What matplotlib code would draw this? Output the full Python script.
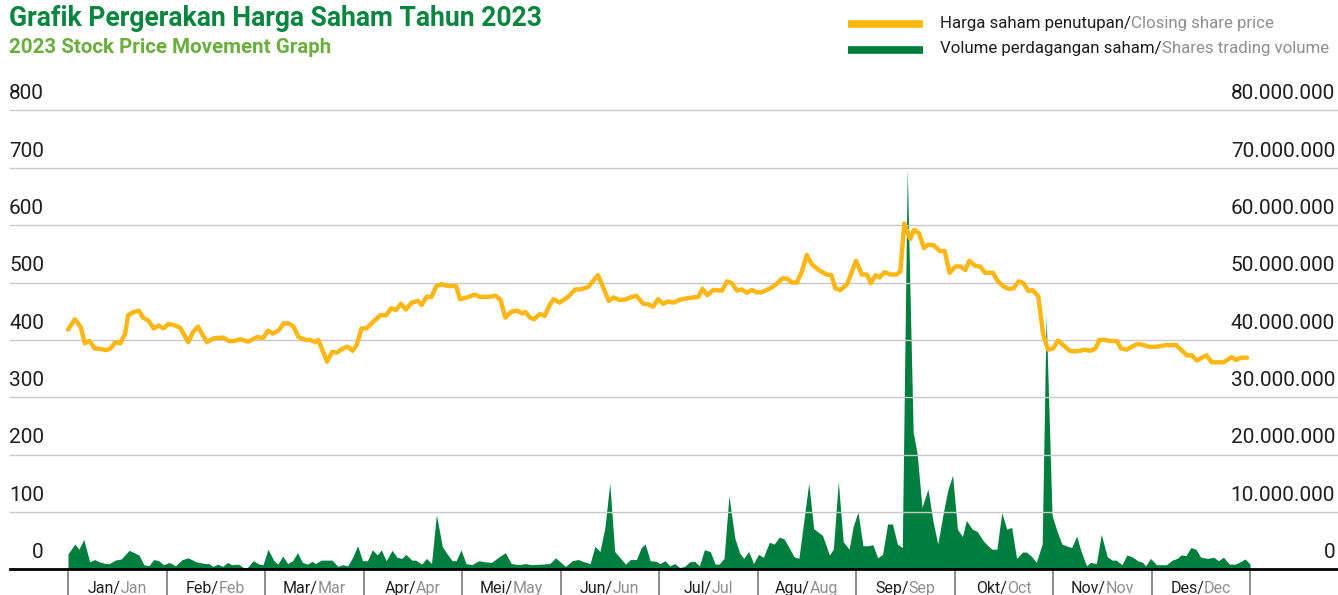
import matplotlib
matplotlib.use("Agg")
import matplotlib.pyplot as plt

plt.rcParams['font.family'] = ['Roboto', 'DejaVu Sans']

# warna
hijau_tua = "#0A8540"
hijau_muda = "#6AAE3E"
oranye = "#FDB714"
hijau_vol = "#007E3D"
abu = "#8F8F8F"
hitam = "#1E1E1E"

bulan_id = ["Jan", "Feb", "Mar", "Apr", "Mei", "Jun", "Jul", "Agu", "Sep", "Okt", "Nov", "Des"]
bulan_en = ["Jan", "Feb", "Mar", "Apr", "May", "Jun", "Jul", "Aug", "Sep", "Oct", "Nov", "Dec"]

# posisi waktu dalam satuan bulan (0 = awal Jan, 12 = akhir Des)
harga_t = [0.00, 0.07, 0.13, 0.17, 0.22, 0.27, 0.34, 0.39, 0.43, 0.48, 0.53, 0.58, 0.61, 0.66, 0.72, 0.76,
           0.82, 0.87, 0.92, 0.97, 1.02, 1.09, 1.14, 1.22, 1.27, 1.32, 1.41, 1.48, 1.58, 1.63, 1.68, 1.75,
           1.83, 1.92, 1.98, 2.03, 2.08, 2.14, 2.19, 2.25, 2.29, 2.34, 2.41, 2.46, 2.51, 2.54, 2.63, 2.68,
           2.73, 2.79, 2.84, 2.89, 2.93, 2.98, 3.03, 3.10, 3.17, 3.23, 3.28, 3.33, 3.38, 3.43, 3.49, 3.55,
           3.59, 3.64, 3.69, 3.74, 3.79, 3.86, 3.94, 3.98, 4.05, 4.13, 4.18, 4.27, 4.34, 4.39, 4.44, 4.50,
           4.56, 4.61, 4.64, 4.69, 4.73, 4.79, 4.84, 4.89, 4.93, 4.99, 5.07, 5.15, 5.20, 5.28, 5.38, 5.43,
           5.49, 5.54, 5.59, 5.65, 5.71, 5.77, 5.84, 5.89, 5.94, 5.99, 6.04, 6.09, 6.15, 6.21, 6.30, 6.40,
           6.44, 6.49, 6.55, 6.64, 6.69, 6.74, 6.79, 6.84, 6.89, 6.94, 6.99, 7.04, 7.13, 7.19, 7.25, 7.30,
           7.35, 7.40, 7.45, 7.50, 7.55, 7.62, 7.70, 7.75, 7.79, 7.84, 7.91, 8.00, 8.06, 8.11, 8.15, 8.20,
           8.24, 8.29, 8.35, 8.41, 8.45, 8.49, 8.55, 8.59, 8.64, 8.69, 8.73, 8.79, 8.85, 8.90, 8.95, 9.01,
           9.06, 9.11, 9.15, 9.21, 9.26, 9.31, 9.39, 9.44, 9.50, 9.55, 9.60, 9.65, 9.70, 9.75, 9.79, 9.85,
           9.90, 9.95, 10.00, 10.05, 10.11, 10.17, 10.22, 10.27, 10.32, 10.38, 10.43, 10.47, 10.53, 10.58,
           10.65, 10.69, 10.75, 10.80, 10.86, 10.92, 10.97, 11.05, 11.15, 11.25, 11.31, 11.36, 11.41, 11.46,
           11.51, 11.56, 11.61, 11.66, 11.73, 11.77, 11.81, 11.86, 11.91, 11.97]
harga = [418, 436, 422, 394, 398, 385, 384, 382, 385, 396, 394, 411, 443, 448, 451, 439,
         433, 420, 425, 420, 428, 425, 421, 396, 414, 423, 396, 403, 404, 398, 398, 401,
         397, 405, 403, 416, 411, 417, 429, 428, 423, 405, 400, 400, 396, 400, 362, 379,
         378, 385, 388, 381, 391, 420, 420, 432, 443, 443, 455, 452, 463, 453, 465, 468,
         461, 475, 475, 494, 497, 494, 494, 471, 474, 479, 475, 475, 477, 470, 439, 449,
         451, 446, 449, 439, 436, 445, 442, 461, 471, 465, 474, 488, 488, 492, 513, 493,
         468, 474, 470, 470, 474, 477, 463, 462, 458, 471, 463, 467, 465, 470, 473, 475,
         489, 478, 487, 486, 502, 499, 486, 488, 482, 487, 483, 483, 490, 497, 507, 507,
         500, 500, 519, 548, 532, 522, 514, 513, 490, 487, 497, 538, 514, 514, 499, 513,
         509, 518, 514, 514, 519, 603, 576, 592, 586, 560, 566, 565, 555, 555, 517, 528,
         528, 522, 538, 529, 528, 517, 517, 502, 493, 489, 490, 502, 499, 485, 487, 476,
         409, 383, 385, 399, 390, 381, 380, 381, 383, 381, 385, 400, 400, 398,
         398, 385, 383, 388, 393, 391, 388, 388, 391, 391, 381, 373, 373, 364,
         369, 373, 361, 361, 361, 365, 370, 365, 369, 369]

# volume perdagangan (juta lembar)
vol_t = [0.00, 0.07, 0.11, 0.16, 0.22, 0.27, 0.32, 0.38, 0.42, 0.48, 0.54, 0.62, 0.72, 0.77, 0.82, 0.87,
         0.92, 0.97, 1.03, 1.09, 1.16, 1.22, 1.30, 1.39, 1.43, 1.47, 1.52, 1.57, 1.62, 1.66, 1.73, 1.78,
         1.82, 1.88, 1.94, 1.98, 2.03, 2.09, 2.13, 2.18, 2.23, 2.28, 2.33, 2.38, 2.43, 2.48, 2.51, 2.57,
         2.63, 2.68, 2.74, 2.79, 2.84, 2.89, 2.94, 2.99, 3.04, 3.09, 3.14, 3.18, 3.23, 3.29, 3.34, 3.39,
         3.43, 3.49, 3.53, 3.59, 3.64, 3.69, 3.74, 3.80, 3.84, 3.90, 3.94, 3.99, 4.04, 4.10, 4.17, 4.23,
         4.30, 4.37, 4.44, 4.50, 4.58, 4.64, 4.70, 4.81, 4.89, 4.95, 5.05, 5.12, 5.18, 5.24, 5.30, 5.35,
         5.40, 5.45, 5.50, 5.55, 5.60, 5.66, 5.71, 5.77, 5.82, 5.86, 5.91, 5.97, 6.01, 6.06, 6.11, 6.16,
         6.21, 6.26, 6.31, 6.36, 6.41, 6.46, 6.52, 6.57, 6.61, 6.66, 6.71, 6.77, 6.82, 6.86, 6.91, 6.96,
         7.01, 7.06, 7.12, 7.17, 7.22, 7.27, 7.32, 7.37, 7.42, 7.52, 7.57, 7.66, 7.73, 7.77, 7.82, 7.87,
         7.93, 7.97, 8.02, 8.07, 8.12, 8.17, 8.22, 8.27, 8.32, 8.37, 8.42, 8.47, 8.52, 8.58, 8.62, 8.67,
         8.73, 8.78, 8.83, 8.89, 8.93, 8.98, 9.03, 9.08, 9.12, 9.18, 9.23, 9.29, 9.34, 9.38, 9.43, 9.48,
         9.53, 9.58, 9.63, 9.69, 9.73, 9.78, 9.83, 9.89, 9.93, 9.99, 10.04, 10.09, 10.15, 10.19, 10.24,
         10.28, 10.34, 10.38, 10.44, 10.49, 10.55, 10.60, 10.64, 10.70, 10.75, 10.80, 10.86, 10.91, 10.94,
         10.99, 11.05, 11.15, 11.21, 11.26, 11.30, 11.35, 11.40, 11.45, 11.50, 11.57, 11.63, 11.68, 11.73,
         11.79, 11.85, 11.90, 11.95, 12.00]
volume = [2.7, 4.4, 3.5, 5.2, 1.3, 1.7, 1.3, 1.0, 1.0, 1.6, 1.8, 3.3, 2.5, 0.8, 0.6, 1.7,
          1.5, 0.8, 1.2, 0.6, 1.7, 2.0, 1.3, 1.0, 1.0, 0.5, 0.9, 0.5, 1.2, 0.8, 0.9, 0.3,
          0.3, 1.5, 0.9, 0.8, 3.5, 1.5, 0.9, 2.3, 1.0, 1.5, 2.9, 1.2, 0.9, 1.4, 1.0, 1.6,
          1.6, 1.6, 0.5, 0.8, 0.6, 2.1, 4.1, 1.5, 1.5, 3.4, 2.5, 3.4, 1.5, 3.3, 2.1, 1.9,
          2.6, 1.6, 1.6, 0.9, 1.9, 1.0, 9.5, 4.0, 2.9, 1.5, 1.5, 3.4, 1.0, 0.8, 1.5, 1.3,
          1.2, 2.1, 2.9, 1.0, 0.8, 1.0, 0.8, 0.9, 1.0, 2.0, 0.5, 1.5, 1.7, 1.3, 1.0, 4.0,
          3.1, 7.2, 15.0, 3.1, 2.1, 0.9, 1.7, 1.7, 3.8, 4.4, 1.5, 1.4, 1.0, 1.5, 0.6, 1.0,
          0.3, 0.5, 1.3, 1.4, 0.6, 3.4, 3.1, 0.9, 0.9, 1.9, 12.8, 5.4, 2.8, 1.9, 3.1, 1.0,
          2.6, 2.1, 4.7, 4.4, 5.6, 5.3, 3.8, 2.2, 1.9, 15.0, 7.1, 5.9, 2.5, 3.5, 15.3, 4.8,
          3.5, 7.4, 10.0, 4.1, 4.1, 4.3, 2.0, 2.6, 7.9, 7.9, 4.4, 3.8, 69.8, 24.0, 20.2, 10.8,
          14.0, 8.5, 4.4, 10.2, 13.7, 16.4, 7.0, 5.7, 8.5, 7.0, 6.6, 5.0, 4.1, 3.5, 3.5, 9.9,
          7.0, 7.3, 1.9, 3.0, 3.0, 2.3, 1.2, 4.4, 44.4, 9.4, 6.7, 4.4, 4.0, 3.8, 5.8,
          3.4, 0.6, 1.2, 1.0, 6.1, 2.2, 1.6, 1.6, 0.8, 2.5, 2.2, 1.5, 1.2, 0.6,
          1.9, 0.8, 0.8, 1.6, 1.9, 2.5, 2.4, 3.8, 3.5, 2.1, 1.9, 2.1, 1.5, 2.1,
          0.9, 0.9, 1.3, 1.8, 0.9]

grid_harga = [0, 100, 200, 300, 400, 500, 600, 700, 800]
# 100 pada sumbu kiri = 10.000.000 lembar pada sumbu kanan
skala_vol = 10

W, H = 1338, 595
fig = plt.figure(figsize=(W / 100, H / 100), dpi=100)
ax = fig.add_axes([10 / W, 25.7 / H, 1327 / W, 458.8 / H])
ax.set_xlim(-0.589, 12.883)
ax.set_ylim(0, 800)
for s in ax.spines.values():
    s.set_visible(False)

ax.fill_between(vol_t, [v * skala_vol for v in volume], 0, color=hijau_vol, lw=0, zorder=1)
for g in grid_harga[1:]:
    ax.axhline(g, color="#C8C8C8", lw=1.0, zorder=2, clip_on=False)
ax.plot(harga_t, harga, color=oranye, lw=3.2, solid_joinstyle="round", solid_capstyle="round", zorder=3)
ax.axhline(0, color="black", lw=2.0, zorder=4, clip_on=False)

ax.set_yticks([])
ax.set_xticks(range(13))
ax.set_xticklabels([])
ax.tick_params(axis="x", length=19, width=1.1, color="#6E6E6E", direction="out")

for g in grid_harga:
    ax.annotate(str(g), xy=(0.0256, g), xycoords=("axes fraction", "data"), xytext=(0, 8),
                textcoords="offset points", ha="right", va="baseline", fontsize=15, color=hitam)
    lab = "0" if g == 0 else f"{g * 100000:,}".replace(",", ".")
    ax.annotate(lab, xy=(0.9985, g), xycoords=("axes fraction", "data"), xytext=(0, 8),
                textcoords="offset points", ha="right", va="baseline", fontsize=15, color=hitam)

fig.text(9 / W, 1 - 26 / H, "Grafik Pergerakan Harga Saham Tahun 2023", fontsize=19.1,
         fontweight="bold", color=hijau_tua, va="baseline")
fig.text(9 / W, 1 - 53 / H, "2023 Stock Price Movement Graph", fontsize=14.8,
         fontweight="bold", color=hijau_muda, va="baseline")

renderer = fig.canvas.get_renderer()


def dua_warna(x, y, a, b, size, tengah=False):
    # ukur lebar teks utuh, lalu taruh bagian depan (hitam) dan belakang (abu-abu) berdampingan
    tmp = fig.text(x, y, a + b, fontsize=size)
    w = tmp.get_window_extent(renderer).width / W
    tmp.remove()
    if tengah:
        x = x - w / 2
    t1 = fig.text(x, y, a, fontsize=size, color=hitam, va="baseline", ha="left")
    t2 = fig.text(x + w, y, b, fontsize=size, color=abu, va="baseline", ha="right")
    return t1, t2


# legenda
for yy, c in [(24, oranye), (49.5, hijau_vol)]:
    fig.add_artist(plt.Line2D([848 / W, 923 / W], [1 - yy / H, 1 - yy / H], transform=fig.transFigure,
                              color=c, lw=5.5, solid_capstyle="butt"))
dua_warna(940 / W, 1 - 28 / H, "Harga saham penutupan/", "Closing share price", 12.2)
dua_warna(940 / W, 1 - 53 / H, "Volume perdagangan saham/", "Shares trading volume", 12.2)

# label bulan
for i, (a, b) in enumerate(zip(bulan_id, bulan_en)):
    xc = fig.transFigure.inverted().transform(ax.transData.transform((i + 0.5, 0)))[0]
    dua_warna(xc, 1 - 593 / H, a + "/", b, 11.5, tengah=True)

fig.savefig("out.png", dpi=100)
